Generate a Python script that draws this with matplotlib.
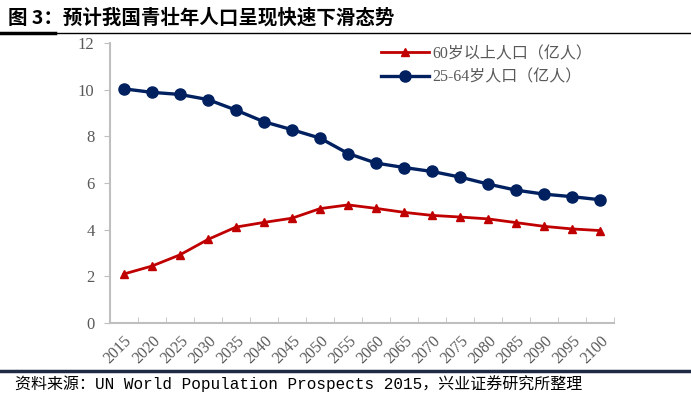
import numpy as np
import matplotlib.pyplot as plt
from matplotlib.lines import Line2D

years = ['2015', '2020', '2025', '2030', '2035', '2040', '2045', '2050', '2055',
         '2060', '2065', '2070', '2075', '2080', '2085', '2090', '2095', '2100']
pop_60_plus = [2.10, 2.44, 2.92, 3.58, 4.11, 4.31, 4.49, 4.90, 5.06,
               4.91, 4.74, 4.61, 4.54, 4.46, 4.30, 4.14, 4.03, 3.96]
pop_25_64 = [10.03, 9.88, 9.79, 9.57, 9.12, 8.62, 8.28, 7.92, 7.26,
             6.85, 6.66, 6.49, 6.25, 5.95, 5.69, 5.52, 5.41, 5.28]

title = '图 3：预计我国青壮年人口呈现快速下滑态势'
source = '资料来源：UN World Population Prospects 2015，兴业证券研究所整理'
label_red = '60岁以上人口（亿人）'
label_blue = '25-64岁人口（亿人）'

serif = ['Liberation Serif', 'Noto Sans CJK SC']
red = '#C00000'
navy = '#002060'
grey_txt = '#595959'

fig = plt.figure(figsize=(6.91, 3.93), dpi=100)
ax = fig.add_axes([0.159, 0.178, 0.730, 0.713])

x = np.arange(len(years))
ax.plot(x, pop_60_plus, color=red, lw=2.0, marker='^', ms=6, label=label_red)
ax.plot(x, pop_25_64, color=navy, lw=2.4, marker='o', ms=8, label=label_blue)

ax.set_xlim(-0.5, len(years) - 0.5)
ax.set_ylim(0, 12)
ax.set_yticks(range(0, 13, 2))
ax.set_xticks(x)
ax.set_xticklabels(years, rotation=45, ha='right', rotation_mode='anchor',
                   family=serif, fontsize=11.5, color=grey_txt)
ax.set_xticks(np.arange(-0.5, len(years)), minor=True)
ax.tick_params(axis='x', which='major', length=0, pad=7)
ax.tick_params(axis='x', which='minor', length=4, color='#BFBFBF', direction='in')
ax.tick_params(axis='y', length=4, color='#BFBFBF', direction='out', pad=7,
               labelcolor=grey_txt)
for lab in ax.get_yticklabels():
    lab.set_family(serif)
    lab.set_fontsize(12)

for s in ['top', 'right']:
    ax.spines[s].set_visible(False)
for s in ['left', 'bottom']:
    ax.spines[s].set_color('#BFBFBF')
    ax.spines[s].set_linewidth(1.5)

leg = ax.legend(loc='upper right', bbox_to_anchor=(0.985, 1.04), frameon=False,
                prop={'family': serif, 'size': 11.5}, handlelength=3.0,
                labelspacing=0.45, handletextpad=0.2)
for t in leg.get_texts():
    t.set_color(grey_txt)

# title and frame lines
fig.text(0.012, 0.955, title, family=['Noto Sans CJK SC'], fontweight='bold',
         fontsize=14, va='center', ha='left')
fig.add_artist(Line2D([0, 1], [0.917, 0.917], color='black', lw=1.0,
                      transform=fig.transFigure))
fig.add_artist(Line2D([0, 0.08], [0.917, 0.917], color='black', lw=2.5,
                      transform=fig.transFigure))
fig.add_artist(Line2D([0, 1], [0.056, 0.056], color='#1F2A44', lw=2.5,
                      transform=fig.transFigure))
fig.text(0.022, 0.025, source, family=['Liberation Mono', 'Noto Sans CJK SC'],
         fontsize=11.5, va='center', ha='left')

fig.savefig('out.png', dpi=100)
